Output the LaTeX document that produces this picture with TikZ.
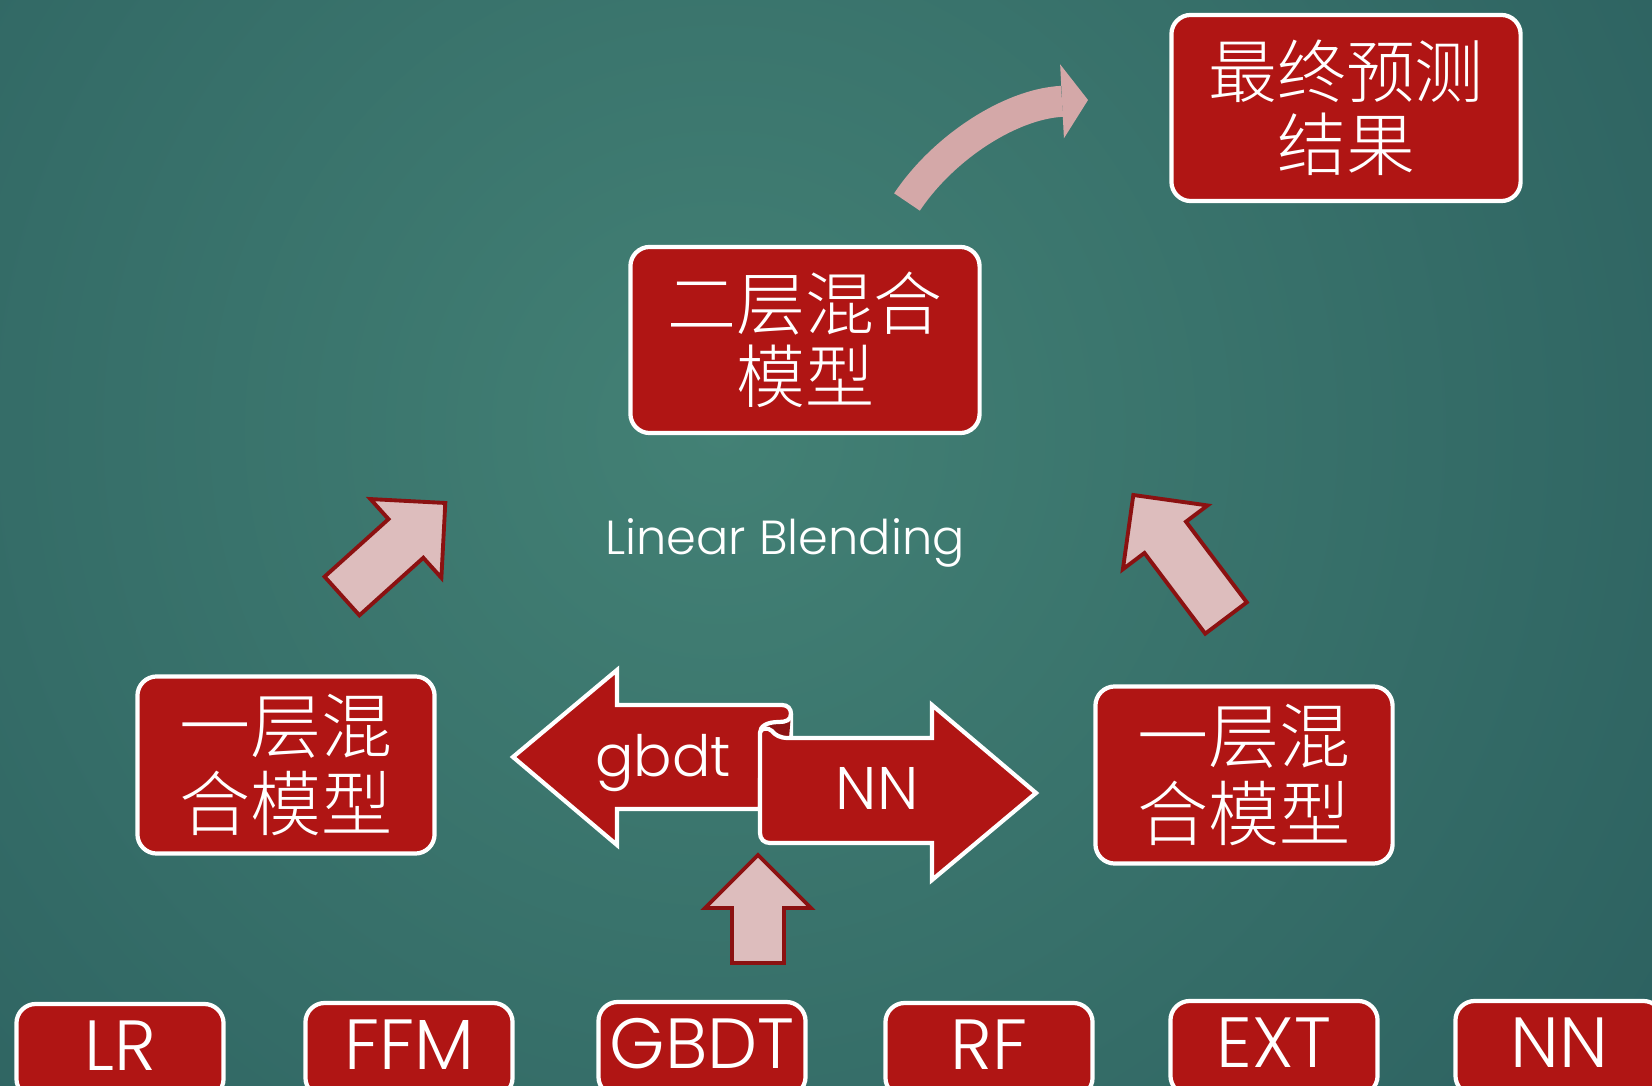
\documentclass[tikz,border=0pt]{standalone}
\usepackage{fontspec}
\usetikzlibrary{arrows.meta}

\IfFontExistsTF{Poppins Light}{\newfontfamily\gothic{Poppins Light}}{\newfontfamily\gothic{Poppins}}
\IfFontExistsTF{Noto Sans CJK SC Light}{\newfontfamily\cjk{Noto Sans CJK SC Light}}{\newfontfamily\cjk{Noto Sans CJK SC}}

\definecolor{boxred}{RGB}{176,21,20}
\definecolor{arrowpink}{RGB}{221,189,189}
\definecolor{arrowrim}{RGB}{139,17,17}
\definecolor{curvepink}{RGB}{212,168,168}
\definecolor{foldred}{RGB}{139,18,18}
\definecolor{bgin}{RGB}{67,129,117}
\definecolor{bgout}{RGB}{24,68,77}

% fat block arrow: base x, base y, angle, length
\newcommand{\fatarrow}[4]{%
  \draw [pinkarrow, shift = {(#1, #2)}, rotate = #3]
  (0, 26) -- (#4 - 53, 26) -- (#4 - 53, 53) -- (#4, 0)
  -- (#4 - 53, -53) -- (#4 - 53, -26) -- (0, -26) -- cycle;}

\begin{document}
\begin{tikzpicture}[
    x = 0.01cm, y = -0.01cm,
    box/.style = {draw = white,
      line width = 1.2pt,
      fill = boxred,
      rounded corners = 5.5pt,
      text = white,
      align = center,
      inner sep = 0pt},
    toplayer/.style = {box,
      minimum width = 3.49cm, minimum height = 1.86cm,
      font = \cjk\fontsize{19.6}{20.8}\selectfont},
    layerone/.style = {box,
      minimum width = 2.97cm, minimum height = 1.77cm,
      font = \cjk\fontsize{20.2}{21.9}\selectfont},
    model/.style = {box,
      minimum width = 2.07cm, minimum height = 0.94cm},
    model text/.style = {text = white, inner sep = 0pt, yshift = 0.055cm,
      font = \gothic\fontsize{20.2}{24}\selectfont},
    ribbon/.style = {draw = white, line width = 1.2pt, fill = boxred},
    ribbon text/.style = {text = white, anchor = base, inner sep = 0pt},
    pinkarrow/.style = {draw = arrowrim, fill = arrowpink, line width = 1.1pt},
    bendarrow/.style = {draw = curvepink, line width = 0.31cm,
      -{Triangle[length = 0.26cm, width = 0.74cm, line width = 0pt]}}
    ]

    \useasboundingbox (0, 0) rectangle (1652, 1086);
    \clip (0, 0) rectangle (1652, 1086);
    \shade [inner color = bgin, outer color = bgout] (720, 430) circle (2150);

    \node at (1346, 108) [toplayer, name = final] {最终预测\\结果};
    \node at (805, 340) [toplayer, name = blend2] {二层混合\\模型};
    \node at (286, 765) [layerone, name = blend1a] {一层混\\合模型};
    \node at (1244, 775) [layerone, name = blend1b] {一层混\\合模型};

    \node at (785, 555) [ribbon text, name = linear,
      font = \gothic\fontsize{13.6}{16}\selectfont] {Linear Blending};

    \node at (120, 1051) [model, name = lr, label = {[model text]center:LR}] {};
    \node at (409, 1050) [model, name = ffm, label = {[model text]center:FFM}] {};
    \node at (702, 1049) [model, name = gbdtm, label = {[model text]center:GBDT}] {};
    \node at (989, 1050) [model, name = rf, label = {[model text]center:RF}] {};
    \node at (1274, 1048) [model, name = ext, label = {[model text]center:EXT}] {};
    \node at (1559, 1048) [model, name = nnm, label = {[model text]center:NN}] {};

    % gbdt / NN scroll
    \draw [ribbon] (513, 757) -- (617, 670) -- (617, 705) -- (782, 705)
    .. controls (788, 705) and (791, 709) .. (791, 714) -- (791, 780)
    -- (760, 780) -- (760, 809) -- (617, 809) -- (617, 845) -- cycle;
    \fill [foldred] (791, 714) .. controls (791, 720) and (786, 722) .. (779, 722)
    .. controls (767, 722) and (760, 726) .. (760, 733)
    -- (760, 738) -- (789, 738) -- cycle;
    \draw [white, line width = 1.2pt] (791, 714)
    .. controls (791, 720) and (786, 722) .. (779, 722)
    .. controls (767, 722) and (760, 726) .. (760, 733);
    \draw [ribbon] (788, 738) -- (932, 738) -- (932, 705) -- (1036, 793)
    -- (932, 880) -- (932, 843) -- (770, 843)
    .. controls (764, 843) and (760, 839) .. (760, 833) -- (760, 733)
    .. controls (760, 728) and (768, 727) .. (772, 731)
    .. controls (775, 735) and (780, 738) .. (788, 738) -- cycle;

    \node at (663, 777) [ribbon text, name = gbdt,
      font = \gothic\fontsize{16.2}{18}\selectfont] {gbdt};
    \node at (877, 810) [ribbon text, name = nn,
      font = \gothic\fontsize{17.1}{19}\selectfont] {NN};

    \fatarrow{342}{596}{42}{139}
    \fatarrow{1226}{618}{127}{154}
    \fatarrow{758}{963}{90}{108}

    \coordinate (bend start) at (907, 202);
    \coordinate (bend end) at (1088, 100);
    \draw [bendarrow] (bend start) .. controls (943, 148) and (1010, 104) .. (bend end);
  \end{tikzpicture}
\end{document}
